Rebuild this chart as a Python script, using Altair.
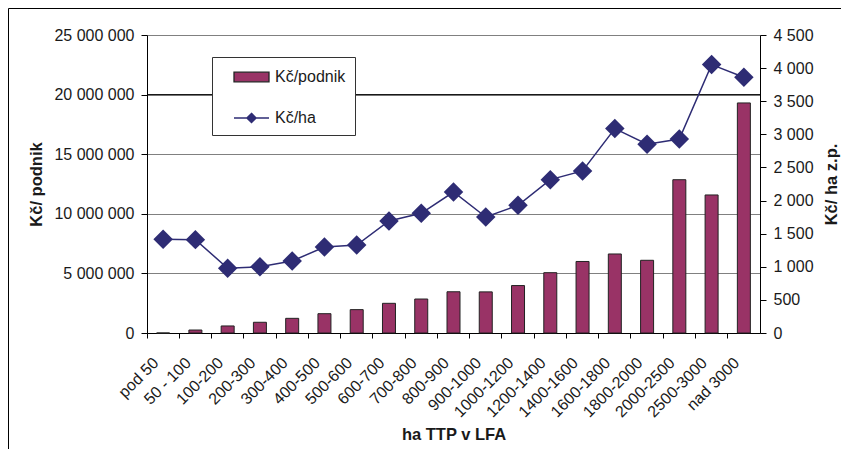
import altair as alt
import pandas as pd

categories = ["pod 50", "50 - 100", "100-200", "200-300", "300-400", "400-500",
              "500-600", "600-700", "700-800", "800-900", "900-1000", "1000-1200",
              "1200-1400", "1400-1600", "1600-1800", "1800-2000", "2000-2500",
              "2500-3000", "nad 3000"]
kc_podnik = [0, 250000, 590000, 900000, 1230000, 1620000, 1960000, 2490000,
             2850000, 3460000, 3450000, 3980000, 5060000, 6000000, 6630000,
             6100000, 12860000, 11580000, 19300000]
kc_ha = [1415, 1410, 977, 1001, 1087, 1299, 1329, 1691, 1807, 2129, 1752, 1929,
         2316, 2447, 3087, 2850, 2930, 4053, 3861]
series_names = ["Kč/podnik", "Kč/ha"]
left_ticks = [0, 5000000, 10000000, 15000000, 20000000, 25000000]
right_ticks = [0, 500, 1000, 1500, 2000, 2500, 3000, 3500, 4000, 4500]
dark_grid_at = [20000000]

df = pd.DataFrame({"kat": categories, "podnik": kc_podnik, "ha": kc_ha})

FONT = "Liberation Sans"
PURPLE = "#993366"
NAVY = "#2E2C74"
TXT = "#1a1a1a"
space_fmt = "replace(replace(format(datum.value, ','), ',', ' '), ',', ' ')"

x_axis = alt.Axis(bandPosition=0, labelOffset=-7, labelAngle=315, labelAlign="right",
                  labelBaseline="middle", labelPadding=22, tickSize=5,
                  labelFontSize=16, titleY=101, titleBaseline="middle",
                  titleFontSize=16.5, titleFontWeight="bold")
x_enc = alt.X("kat:N", sort=categories, title="ha TTP v LFA",
              scale=alt.Scale(paddingInner=0, paddingOuter=0), axis=x_axis)

left_scale = alt.Scale(domain=[0, 25000000], nice=False)
left_axis = alt.Axis(values=left_ticks, labelExpr=space_fmt, grid=True,
                     gridColor="#808080", tickSize=6, labelPadding=7,
                     labelFontSize=16, titleFontSize=16.5, titleFontWeight="bold",
                     titleX=-111, titleBaseline="middle", titleAngle=270)

bars = alt.Chart(df).mark_bar(size=13, color=PURPLE, stroke="#222", strokeWidth=1).encode(
    x=x_enc,
    y=alt.Y("podnik:Q", title="Kč/ podnik", scale=left_scale, axis=left_axis),
)
dark_rule = alt.Chart(pd.DataFrame({"podnik": dark_grid_at})).mark_rule(color="#000", strokeWidth=1).encode(
    y=alt.Y("podnik:Q", title="Kč/ podnik", scale=left_scale, axis=left_axis)
)
left_layer = alt.layer(bars, dark_rule)

right_y = alt.Y("ha:Q", title="Kč/ ha z.p.",
                scale=alt.Scale(domain=[0, 4500], nice=False),
                axis=alt.Axis(orient="right", values=right_ticks, labelExpr=space_fmt,
                              grid=False, tickSize=6, labelPadding=7, labelFontSize=16,
                              titleFontSize=16.5, titleFontWeight="bold", titleAngle=270,
                              titleX=71, titleBaseline="middle"))
line = alt.Chart(df).mark_line(color=NAVY, strokeWidth=1.5).encode(x=x_enc, y=right_y)
pts = alt.Chart(df).mark_point(shape="diamond", filled=True, size=380, color=NAVY, opacity=1).encode(
    x=x_enc, y=right_y)
right_layer = alt.layer(line, pts)

bar_sym = "M0.2,-0.48H3.7V0.48H0.2Z"
line_sym = "M0.2,0L3.7,0M1.95,-0.47L2.42,0L1.95,0.47L1.48,0Z"
leg = alt.Legend(orient="none", legendX=65, legendY=22, title=None, strokeColor="#333",
                 fillColor="white", padding=9, rowPadding=22, symbolSize=400,
                 labelFontSize=16, labelOffset=32, symbolStrokeWidth=1.3,
                 symbolOpacity=1, labelColor=TXT, labelFont=FONT)
legend_layer = alt.Chart(pd.DataFrame({"serie": series_names})).transform_filter("false").mark_point(
    filled=True, size=400, opacity=1).encode(
    fill=alt.Fill("serie:N", scale=alt.Scale(domain=series_names, range=[PURPLE, NAVY]), legend=leg),
    stroke=alt.Stroke("serie:N", scale=alt.Scale(domain=series_names, range=["#222", NAVY]), legend=leg),
    shape=alt.Shape("serie:N", scale=alt.Scale(domain=series_names, range=[bar_sym, line_sym]), legend=leg),
)

frame_df = pd.DataFrame({"a": [0]})
frame_left = alt.Chart(frame_df).mark_rule(color="#000", strokeWidth=1).encode(
    x=alt.value(-138.5), y=alt.value(-26.5), y2=alt.value(420))
frame_top = alt.Chart(frame_df).mark_rule(color="#000", strokeWidth=1).encode(
    x=alt.value(-138.5), x2=alt.value(700), y=alt.value(-26.5))

chart = alt.layer(left_layer, right_layer, legend_layer, frame_left, frame_top).resolve_scale(
    y="independent"
).properties(
    width=613, height=298,
    autosize=alt.AutoSizeParams(type="none"),
    padding={"left": 139, "top": 27, "right": 81, "bottom": 116},
).configure_view(stroke=None).configure_axis(
    labelFont=FONT, titleFont=FONT, labelColor=TXT, titleColor=TXT,
    domainColor="#000", tickColor="#000"
)

chart.save("out.html", embed_options={"renderer": "svg", "actions": False})
